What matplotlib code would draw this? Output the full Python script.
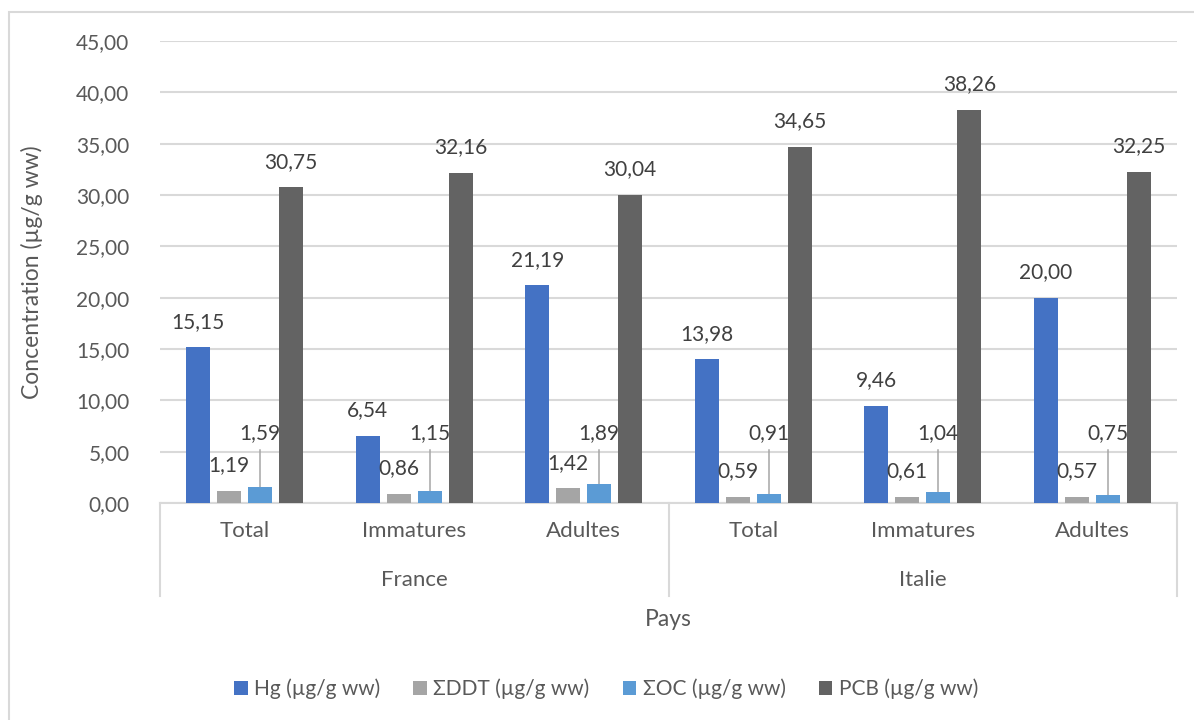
import matplotlib
matplotlib.use("Agg")
import matplotlib.pyplot as plt
from matplotlib.patches import Rectangle, Patch
from matplotlib.transforms import blended_transform_factory
import numpy as np

plt.rcParams["font.family"] = ["Lato", "DejaVu Sans"]

# data
groups = ["France", "Italie"]
categories = ["Total", "Immatures", "Adultes", "Total", "Immatures", "Adultes"]
series = ["Hg (µg/g ww)", "ΣDDT (µg/g ww)", "ΣOC (µg/g ww)", "PCB (µg/g ww)"]
hg = [15.15, 6.54, 21.19, 13.98, 9.46, 20.00]
ddt = [1.19, 0.86, 1.42, 0.59, 0.61, 0.57]
oc = [1.59, 1.15, 1.89, 0.91, 1.04, 0.75]
pcb = [30.75, 32.16, 30.04, 34.65, 38.26, 32.25]
yticks = np.arange(0, 46, 5)

colors = ["#4472C4", "#A5A5A5", "#5B9BD5", "#636363"]
text_c = "#595959"
label_c = "#404040"
grid_c = "#D9D9D9"

W, H = 1194, 720
fig = plt.figure(figsize=(W / 100, H / 100), dpi=100)
ax = fig.add_axes([160 / W, 1 - 503 / H, (1177 - 160) / W, (503 - 41) / H])

x = np.arange(len(categories))
bw, step = 0.142, 0.183
values = [hg, ddt, oc, pcb]
for k, (vals, col) in enumerate(zip(values, colors)):
    xs = x + (k - 1.5) * step
    ax.bar(xs, vals, bw, color=col, zorder=3)
    for xi, v in zip(xs, vals):
        lab = f"{v:.2f}".replace(".", ",")
        if k == 2:
            # OC labels are lifted and tied back to the bar with a leader line
            ax.plot([xi, xi], [v, 5.15], color="#A6A6A6", lw=1.1, zorder=2)
            ax.text(xi, 6.82, lab, ha="center", va="center", fontsize=15,
                    color=label_c, zorder=4)
        else:
            ax.annotate(lab, (xi, v), xytext=(0, 18.5), textcoords="offset points",
                        ha="center", va="center", fontsize=15, color=label_c, zorder=4)

ax.set_xlim(-0.5, len(categories) - 0.5)
ax.set_ylim(0, 45)
ax.set_yticks(yticks)
ax.set_yticklabels([f"{t:.2f}".replace(".", ",") for t in yticks], fontsize=15, color=text_c)
ax.set_xticks(x)
ax.set_xticklabels(categories, fontsize=16, color=text_c)
ax.tick_params(axis="x", length=0, pad=13)
ax.tick_params(axis="y", length=0, pad=22)
ax.grid(axis="y", color=grid_c, lw=1.5, zorder=0)
for s in ("left", "right", "top"):
    ax.spines[s].set_visible(False)
ax.spines["bottom"].set_color(grid_c)
ax.spines["bottom"].set_linewidth(1.5)
ax.spines["bottom"].set_zorder(1)

# group separators and country labels under the categories
tr = blended_transform_factory(ax.transData, ax.transAxes)
low = -(596 - 503) / (503 - 41)
n_per = len(categories) // len(groups)
for b in np.arange(len(groups) + 1) * n_per - 0.5:
    ax.plot([b, b], [0, low], color=grid_c, lw=1.5, transform=tr, clip_on=False)
for g, name in enumerate(groups):
    ax.text(g * n_per + (n_per - 1) / 2, -(580 - 503) / (503 - 41), name, transform=tr,
            ha="center", va="center", fontsize=16, color=text_c)

ax.text(0.5, -(619 - 503) / (503 - 41), "Pays", transform=ax.transAxes,
        ha="center", va="center", fontsize=16.5, color=text_c)
fig.text(32 / W, 1 - 272 / H, "Concentration (µg/g ww)", rotation=90,
         ha="center", va="center", fontsize=16.5, color=text_c)

handles = [Patch(facecolor=c, label=s) for c, s in zip(colors, series)]
leg = fig.legend(handles=handles, loc="center", bbox_to_anchor=(606 / W, 1 - 689 / H),
                 ncol=4, frameon=False, fontsize=15, handlelength=0.65, handleheight=0.65,
                 handletextpad=0.3, columnspacing=1.6)
for t in leg.get_texts():
    t.set_color(text_c)

fig.add_artist(Rectangle((8.5 / W, -0.1), 1.2, 1.1 - 12 / H, transform=fig.transFigure,
                         fill=False, ec=grid_c, lw=1.5))

fig.savefig("out.png", dpi=100)
